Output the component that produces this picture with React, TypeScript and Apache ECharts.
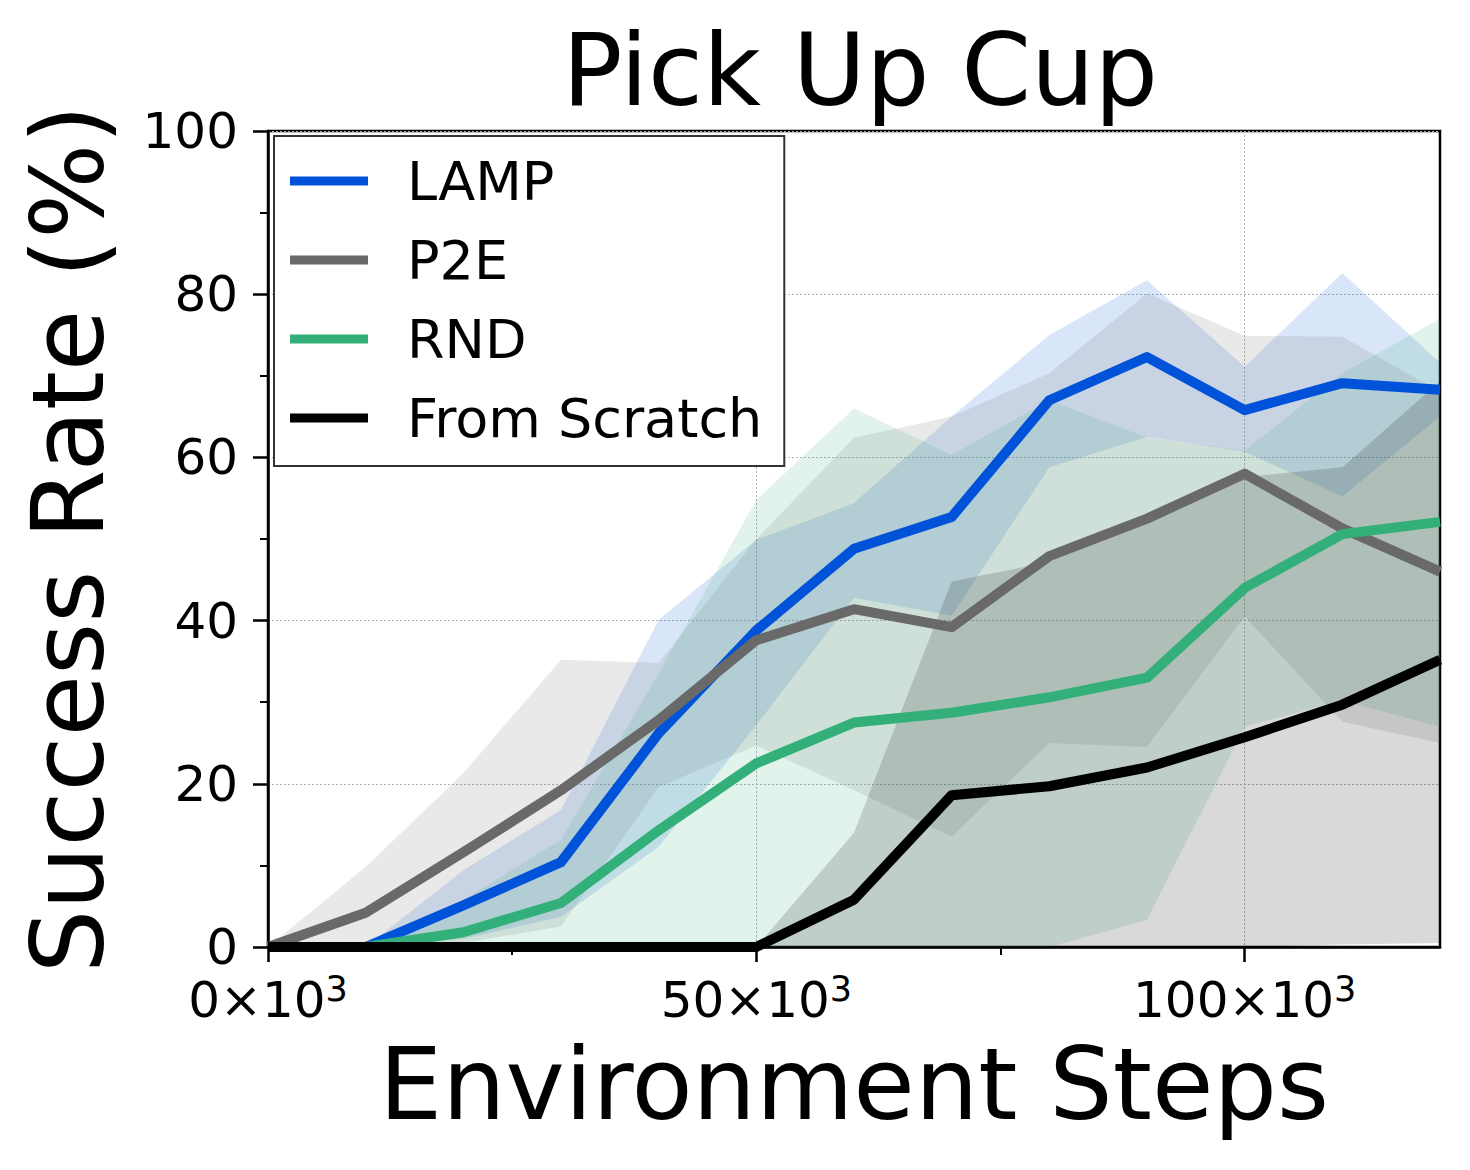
import React, { useEffect, useRef } from "react";
import * as echarts from "echarts";

const steps = [0, 10000, 20000, 30000, 40000, 50000, 60000, 70000, 80000, 90000, 100000, 110000, 120000];

const lampMean = [0, 0, 5.1, 10.4, 26.2, 38.8, 48.8, 52.7, 67, 72.3, 65.8, 69.1, 68.3];
const lampUpper = [0, 0, 9.4, 16.8, 40.1, 49.9, 54.4, 65, 75, 81.7, 71.1, 82.6, 71.6];
const lampLower = [0, 0, 1, 3.7, 12.3, 27.2, 42.8, 40.6, 58.8, 62.5, 60.7, 55.2, 65];

const p2eMean = [0, 4.2, 11.6, 19.2, 27.8, 37.6, 41.4, 39.2, 47.9, 52.5, 58, 51.3, 46];
const p2eUpper = [0, 9.8, 21.3, 35.2, 34.8, 50, 62.4, 65, 70.3, 80.1, 74.9, 74.8, 68];
const p2eLower = [0, 0, 0.5, 2.5, 19.6, 24.7, 19.2, 13.5, 25, 24.5, 40.5, 27.6, 25];

const rndMean = [0, 0, 1.8, 5.4, 14.3, 22.5, 27.5, 28.7, 30.6, 33, 44, 50.6, 52.1];
const rndUpper = [0, 0.3, 5.8, 13.1, 33.5, 54.8, 66, 60.3, 67, 62.4, 60.8, 70.3, 77];
const rndLower = [0, 0, 0, 0, 0, 0, 0, 0, 0, 3.3, 27, 30.2, 27];

const scratchMean = [0, 0, 0, 0, 0, 0, 5.8, 18.6, 19.7, 22, 25.7, 29.7, 35.2];
const scratchUpper = [0, 0, 0, 0, 0, 0, 14, 44.8, 47.2, 52.5, 57.6, 58.8, 69.3];
const scratchLower = [0, 0, 0, 0, 0, 0, 0, 0, 0, 0, 0, 0.3, 0.5];

const methodNames = ["LAMP", "P2E", "RND", "From Scratch"];
const methodColors = ["#0052d9", "#696969", "#33b07a", "#000000"];
const bandFills = ["rgba(0,82,217,0.15)", "rgba(105,105,105,0.15)", "rgba(51,176,122,0.15)", "rgba(0,0,0,0.15)"];

const xMajorTicks = [0, 50000, 100000];
const xMinorTicks = [25000, 75000];

const FONT = "DejaVu Sans";

function pairs(arr: number[]) {
  return steps.map((s, i) => [s, arr[i]]);
}

function bandSeries(key: string, lower: number[], upper: number[], fill: string) {
  return {
    type: "custom",
    name: key,
    xAxisIndex: 0,
    yAxisIndex: 0,
    silent: true,
    z: 2,
    data: [[steps[0], lower[0]]],
    renderItem: (_params: any, api: any) => {
      const pts: number[][] = [];
      for (let i = 0; i < steps.length; i++) pts.push(api.coord([steps[i], upper[i]]));
      for (let i = steps.length - 1; i >= 0; i--) pts.push(api.coord([steps[i], lower[i]]));
      return {
        type: "polygon",
        shape: { points: pts },
        style: { fill, stroke: "none" },
        silent: true,
      };
    },
  };
}

function meanSeries(name: string, values: number[], color: string) {
  return {
    type: "line",
    name,
    xAxisIndex: 0,
    yAxisIndex: 0,
    data: pairs(values),
    symbol: "none",
    lineStyle: { color, width: 10, join: "round" },
    itemStyle: { color },
    z: 3,
  };
}

export default function App() {
  const ref = useRef<HTMLDivElement>(null);

  useEffect(() => {
    if (!ref.current) return;
    const chart = echarts.init(ref.current, undefined, { renderer: "svg" });
    const axisLineStyle = { color: "#000", width: 2.5 };
    const option: any = {
      animation: false,
      backgroundColor: "#fff",
      title: {
        text: "Pick Up Cup",
        left: 855,
        top: 15,
        textAlign: "center",
        textStyle: { fontSize: 100, fontWeight: "normal", fontFamily: FONT, color: "#000", lineHeight: 100 },
      },
      legend: {
        data: methodNames,
        orient: "vertical",
        left: 274,
        top: 136,
        icon: "rect",
        itemWidth: 78,
        itemHeight: 9,
        itemGap: 25,
        padding: [18, 22, 21, 16],
        backgroundColor: "#fff",
        borderColor: "#333",
        borderWidth: 2,
        borderRadius: 0,
        selectedMode: false,
        textStyle: { fontSize: 54, fontFamily: FONT, color: "#000", lineHeight: 54, padding: [0, 0, 0, 34] },
      },
      grid: {
        left: 268,
        top: 131,
        width: 1172,
        height: 816,
        show: true,
        borderColor: "#000",
        borderWidth: 2.5,
        backgroundColor: "transparent",
        containLabel: false,
      },
      xAxis: [
        {
          type: "value",
          min: 0,
          max: 120000,
          interval: 50000,
          position: "bottom",
          name: "Environment Steps",
          nameLocation: "middle",
          nameGap: 87,
          nameTextStyle: { fontSize: 100, fontFamily: FONT, color: "#000", lineHeight: 100 },
          axisLine: { show: true, lineStyle: axisLineStyle },
          axisTick: { show: true, length: 15, lineStyle: { color: "#000", width: 2.5 }, customValues: xMajorTicks },
          minorTick: { show: false },
          axisLabel: {
            show: true,
            margin: 24,
            customValues: xMajorTicks,
            formatter: (v: number) => `{b|${Math.round(v / 1000)}×10}{s|3}`,
            rich: {
              b: { fontSize: 50, fontFamily: FONT, color: "#000", lineHeight: 54, verticalAlign: "bottom" },
              s: { fontSize: 35, fontFamily: FONT, color: "#000", lineHeight: 30, verticalAlign: "top" },
            },
          },
          splitLine: { show: true, lineStyle: { color: "#b0b0b0", type: [2, 2], width: 1 } },
        },
        {
          type: "value",
          min: 0,
          max: 120000,
          interval: 25000,
          position: "bottom",
          offset: 0,
          axisLine: { show: false },
          axisTick: { show: true, length: 8, lineStyle: { color: "#000", width: 2 }, customValues: xMinorTicks },
          axisLabel: { show: false },
          splitLine: { show: false },
        },
      ],
      yAxis: {
        type: "value",
        min: 0,
        max: 100,
        interval: 20,
        name: "Success Rate (%)",
        nameLocation: "middle",
        nameGap: 150,
        nameRotate: 90,
        nameTextStyle: { fontSize: 100, fontFamily: FONT, color: "#000", lineHeight: 100 },
        axisLine: { show: true, lineStyle: axisLineStyle },
        axisTick: { show: true, length: 15, lineStyle: { color: "#000", width: 2.5 } },
        minorTick: { show: true, splitNumber: 2, length: 8, lineStyle: { color: "#000", width: 2 } },
        axisLabel: { margin: 30, fontSize: 50, lineHeight: 36, fontFamily: FONT, color: "#000" },
        splitLine: { show: true, lineStyle: { color: "#b0b0b0", type: [2, 2], width: 1 } },
      },
      series: [
        bandSeries("lampBand", lampLower, lampUpper, bandFills[0]),
        bandSeries("p2eBand", p2eLower, p2eUpper, bandFills[1]),
        bandSeries("rndBand", rndLower, rndUpper, bandFills[2]),
        bandSeries("scratchBand", scratchLower, scratchUpper, bandFills[3]),
        meanSeries(methodNames[0], lampMean, methodColors[0]),
        meanSeries(methodNames[1], p2eMean, methodColors[1]),
        meanSeries(methodNames[2], rndMean, methodColors[2]),
        meanSeries(methodNames[3], scratchMean, methodColors[3]),
      ],
    };
    chart.setOption(option);
    return () => chart.dispose();
  }, []);

  return (
    <div
      ref={ref}
      style={{ position: "absolute", left: 0, top: 0, width: 1470, height: 1170, background: "#fff" }}
    />
  );
}
